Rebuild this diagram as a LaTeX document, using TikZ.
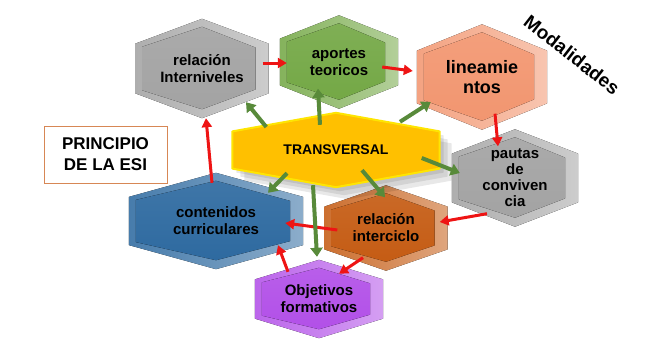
\documentclass[tikz,border=0pt]{standalone}
\usepackage{fontspec}
\setmainfont{Liberation Sans}
\usetikzlibrary{arrows.meta, calc, backgrounds}

\definecolor{hexgray}{RGB}{163,163,163}
\definecolor{hexgreen}{RGB}{116,168,70}
\definecolor{hexsalmon}{RGB}{242,150,112}
\definecolor{hexorange}{RGB}{197,92,20}
\definecolor{hexblue}{RGB}{46,106,160}
\definecolor{hexpurple}{RGB}{178,80,232}
\definecolor{hexyellow}{RGB}{255,192,0}
\definecolor{arrred}{RGB}{238,20,20}
\definecolor{arrgreen}{RGB}{88,138,58}
\definecolor{boxline}{RGB}{215,135,85}

% bevelled hexagon behind a text node
\newcommand{\hexbody}[2]{%
  \fill[left color=#2!88!white, right color=#2!55!white]
    (#1.north) -- ($(#1.north east)!.25!(#1.south east)$) -- ($(#1.north east)!.75!(#1.south east)$)
    -- (#1.south) -- ($(#1.north west)!.75!(#1.south west)$) -- ($(#1.north west)!.25!(#1.south west)$) -- cycle;
  \fill[top color=#2!92!white, bottom color=#2]
    ($(#1.north)+(0,8)$) -- ($(#1.north east)!.25!(#1.south east)+(-13,4)$) -- ($(#1.north east)!.75!(#1.south east)+(-13,-4)$)
    -- ($(#1.south)+(0,-9)$) -- ($(#1.north west)!.75!(#1.south west)+(7,-3)$) -- ($(#1.north west)!.25!(#1.south west)+(7,3)$) -- cycle;
}

\begin{document}
\begin{tikzpicture}[
    x=1pt, y=-1pt,
    hextext/.style={inner sep=0pt, align=center, font=\fontsize{15}{17}\selectfont\bfseries},
    redarrow/.style={draw=arrred, line width=3pt, -{Triangle[length=9pt,width=10pt]}},
    greenarrow/.style={draw=arrgreen, line width=4pt, -{Triangle[length=9pt,width=12pt]}}
]
\useasboundingbox (0,0) rectangle (657,357);

% Hexagon labels
\node[hextext, minimum width=133pt, minimum height=99pt] (intn) at (202,68.5) {relación\\Interniveles};
\node[hextext, minimum width=118pt, minimum height=93pt] (apor) at (339,62) {aportes\\teoricos};
\node[hextext, minimum width=130pt, minimum height=105pt, font=\fontsize{18}{20}\selectfont\bfseries] (line) at (482,77) {lineamie\\ntos};
\node[hextext, minimum width=126pt, minimum height=97pt, font=\fontsize{15}{16}\selectfont\bfseries] (paut) at (515,178) {pautas\\de\\conviven\\cia};
\node[hextext, minimum width=123pt, minimum height=85pt] (inte) at (386,228) {relación\\interciclo};
\node[hextext, minimum width=174pt, minimum height=96pt] (cont) at (216,221) {contenidos\\curriculares};
\node[hextext, minimum width=128pt, minimum height=78pt] (obje) at (319,299) {Objetivos\\formativos};
\node[hextext, minimum width=207pt, minimum height=74pt, font=\fontsize{14}{16}\selectfont\bfseries] (trans) at (336,150) {TRANSVERSAL};

% Side labels
\node[draw=boxline, line width=1pt, minimum width=123pt, minimum height=57pt, align=center,
      font=\fontsize{17}{21}\selectfont\bfseries] (princ) at (105.5,154.5) {PRINCIPIO\\DE LA ESI};
\node[rotate=-38, font=\fontsize{19}{22}\selectfont\bfseries] (modal) at (572,55) {Modalidades};

% Hexagons
\begin{scope}[on background layer]
\hexbody{intn}{hexgray}
\hexbody{apor}{hexgreen}
\hexbody{line}{hexsalmon}
\hexbody{paut}{hexgray}
\hexbody{inte}{hexorange}
\hexbody{cont}{hexblue}
\hexbody{obje}{hexpurple}
\foreach \s in {4,8,12}
  \fill[black, opacity=.09, transform canvas={shift={(\s pt,-\s pt)}}]
    (trans.north) -- ($(trans.north east)!.25!(trans.south east)$) -- ($(trans.north east)!.75!(trans.south east)$)
    -- (trans.south) -- ($(trans.north west)!.75!(trans.south west)$) -- ($(trans.north west)!.25!(trans.south west)$) -- cycle;
\filldraw[fill=hexyellow, draw=yellow!75!hexyellow, line width=2pt, line join=round]
    (trans.north) -- ($(trans.north east)!.25!(trans.south east)$) -- ($(trans.north east)!.75!(trans.south east)$)
    -- (trans.south) -- ($(trans.north west)!.75!(trans.south west)$) -- ($(trans.north west)!.25!(trans.south west)$) -- cycle;
\end{scope}

% Red links
\draw[redarrow] ($(cont.north)+(-4,10)$) -- ($(intn.south)+(4,0)$);
\draw[redarrow] ($(intn.east)+(-6,-5.5)$) -- ($(apor.west)+(7,1)$);
\draw[redarrow] ($(apor.east)+(-16,5)$) -- ($(line.west)+(-4,-6)$);
\draw[redarrow] ($(line.south)+(13,-16)$) -- ($(paut.north)+(-17,17)$);
\draw[redarrow] ($(paut.south)+(-28,-13)$) -- ($(inte.east)+(-8,-6)$);
\draw[redarrow] ($(inte.west)+(13,2)$) -- ($(cont.east)+(-18,2)$);
\draw[redarrow] ($(inte.south)+(-23,-13)$) -- ($(obje.north)+(20,14)$);
\draw[redarrow] ($(obje.north)+(-31,12)$) -- ($(cont.south)+(62,-24)$);

% Green links
\draw[greenarrow] ($(trans.west)+(34,-23)$) -- ($(intn.south)+(44,-16)$);
\draw[greenarrow] ($(trans.north)+(-16,12)$) -- ($(apor.south)+(-21,-20)$);
\draw[greenarrow] ($(trans.north)+(64,9)$) -- ($(line.west)+(14,25)$);
\draw[greenarrow] ($(trans.east)+(-18,8)$) -- ($(paut.west)+(8,-5)$);
\draw[greenarrow] ($(trans.south)+(-49,-14)$) -- ($(cont.north)+(52,20)$);
\draw[greenarrow] ($(trans.south)+(26,-17)$) -- ($(inte.north)+(-1,12)$);
\draw[greenarrow] ($(trans.south)+(-23,-2)$) -- ($(obje.north)+(-2,-3)$);

\end{tikzpicture}
\end{document}
